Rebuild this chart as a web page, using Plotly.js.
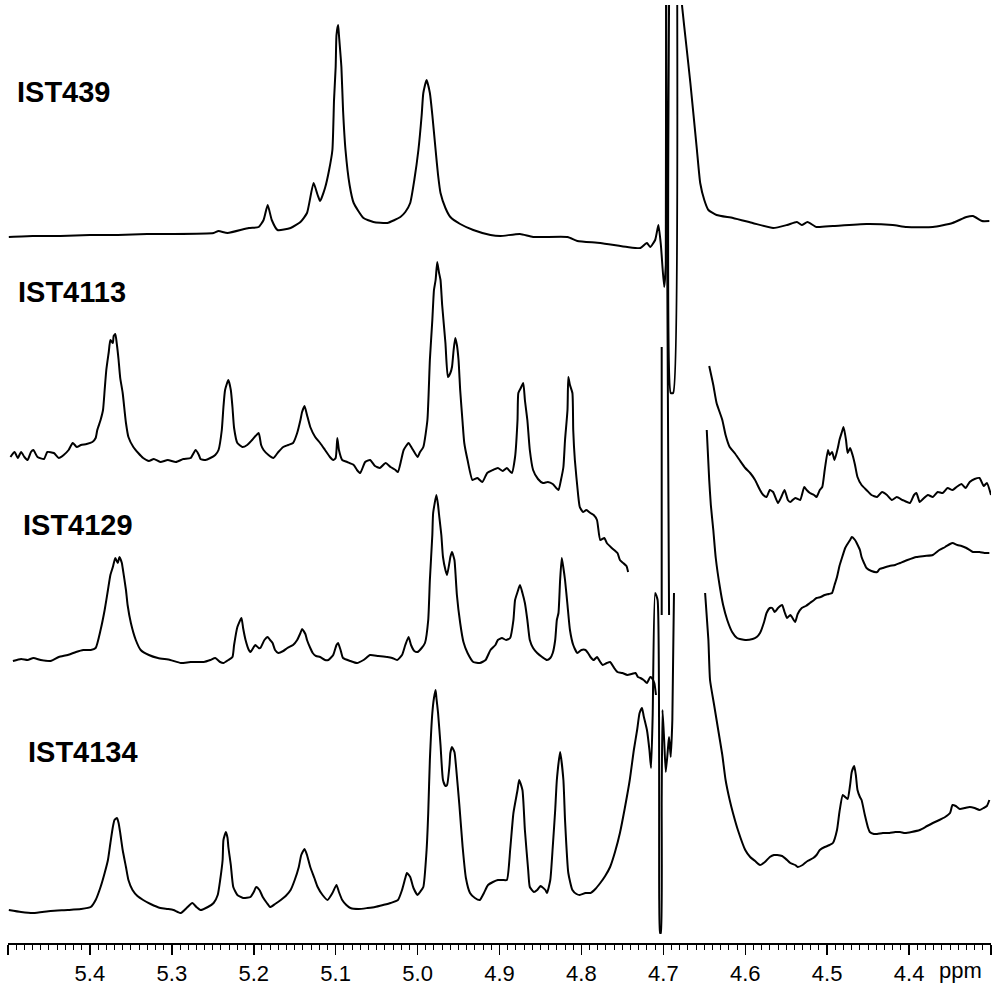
<!DOCTYPE html>
<html>
<head>
<meta charset="utf-8">
<script src="https://cdn.plot.ly/plotly-3.0.1.min.js"></script>
<style>html,body{margin:0;padding:0;background:#fff;}#chart{width:1000px;height:989px;}</style>
</head>
<body>
<div id="chart"></div>
<script>
// ---- Data: chemical shift (ppm) and intensity (a.u., relative to each spectrum's baseline); null = gap
const ppm_IST439 = [5.499,5.470,5.436,5.400,5.366,5.330,5.302,5.249,5.243,5.232,5.206,5.194,5.188,5.183,5.178,5.171,5.155,5.143,5.135,5.127,5.122,5.119,5.113,5.108,5.104,5.102,5.100,5.099,5.097,5.096,5.093,5.091,5.088,5.083,5.078,5.066,5.054,5.037,5.021,5.015,5.009,5.004,4.999,4.995,4.993,4.989,4.985,4.982,4.978,4.975,4.972,4.966,4.960,4.948,4.932,4.911,4.899,4.875,4.859,4.817,4.805,4.777,4.744,4.728,4.722,4.720,4.716,4.710,4.706,4.703,4.699,4.697,4.695,4.678,4.677,4.672,4.667,4.659,4.655,4.650,4.645,4.635,4.615,4.591,4.566,4.549,4.537,4.531,4.524,4.513,4.493,4.452,4.420,4.403,4.371,4.347,4.330,4.322,4.311,4.302];
const int_IST439 = [-1,0,0,1,1,2,2,3,5,3,8,9,16,31,16,6,8,14,23,53,41,35,48,66,86,136,169,201,211,201,169,126,86,51,33,18,14,13,19,24,33,56,86,121,143,156,143,121,86,61,43,28,19,12,6,1,0,2,-1,-1,-5,-7,-11,-12,-8,-7,-11,-4,11,-9,-51,-29,1200,241,229,191,153,86,53,36,26,21,18,13,8,11,14,11,14,9,10,12,11,9,9,13,19,20,15,15];

const ppm_IST4113 = [5.497,5.492,5.488,5.484,5.480,5.476,5.472,5.469,5.464,5.456,5.452,5.444,5.438,5.432,5.426,5.421,5.416,5.411,5.404,5.397,5.393,5.391,5.387,5.384,5.382,5.380,5.377,5.375,5.372,5.371,5.369,5.367,5.365,5.363,5.360,5.356,5.353,5.347,5.341,5.335,5.328,5.322,5.314,5.305,5.295,5.286,5.277,5.271,5.267,5.265,5.259,5.253,5.247,5.243,5.239,5.237,5.235,5.231,5.228,5.226,5.224,5.220,5.214,5.208,5.202,5.194,5.191,5.188,5.182,5.176,5.170,5.164,5.158,5.152,5.147,5.143,5.141,5.138,5.135,5.131,5.125,5.119,5.113,5.107,5.103,5.100,5.098,5.096,5.092,5.086,5.078,5.074,5.070,5.064,5.058,5.052,5.046,5.039,5.033,5.027,5.024,5.020,5.017,5.011,5.007,5.000,4.997,4.993,4.988,4.985,4.982,4.980,4.978,4.976,4.974,4.972,4.970,4.966,4.963,4.960,4.958,4.956,4.954,4.952,4.950,4.948,4.945,4.943,4.939,4.933,4.927,4.921,4.915,4.908,4.902,4.896,4.891,4.885,4.881,4.878,4.877,4.874,4.871,4.869,4.866,4.863,4.859,4.853,4.847,4.841,4.835,4.828,4.825,4.822,4.820,4.817,4.816,4.814,4.811,4.810,4.808,4.804,4.802,4.798,4.794,4.789,4.785,4.781,4.777,4.772,4.769,4.763,4.756,4.753,4.749,4.745,4.743,
  null,4.702,4.702,null,4.693,4.693,4.691,4.691,4.688,4.688,null,
  4.644,4.639,4.635,4.628,4.624,4.619,4.613,4.607,4.600,4.594,4.588,4.582,4.578,4.574,4.570,4.566,4.560,4.556,4.552,4.548,4.545,4.539,4.533,4.528,4.525,4.521,4.516,4.513,4.509,4.506,4.503,4.499,4.497,4.494,4.491,4.487,4.485,4.482,4.480,4.477,4.475,4.472,4.469,4.466,4.463,4.458,4.452,4.446,4.439,4.433,4.427,4.421,4.415,4.408,4.399,4.394,4.391,4.387,4.383,4.377,4.371,4.365,4.359,4.353,4.347,4.342,4.336,4.331,4.326,4.320,4.314,4.309,4.305,4.300];
const int_IST4113 = [3,8,2,8,3,0,8,10,3,1,8,7,2,5,10,17,13,15,16,18,22,30,40,50,70,90,108,120,117,124,126,115,100,82,67,37,23,13,7,2,-1,1,-2,0,-2,1,2,10,5,1,0,2,5,10,30,53,70,80,70,53,32,17,13,15,20,27,15,10,5,2,8,13,15,17,27,40,48,54,45,33,23,17,10,3,0,2,22,10,0,-2,-5,-10,-13,-2,0,-6,-8,-3,-7,-10,-12,0,10,17,12,3,8,13,40,100,140,170,180,198,188,180,155,117,83,87,93,110,122,115,100,70,37,17,0,-20,-18,-22,-13,-10,-8,-11,-8,-13,3,40,67,72,77,60,40,10,-10,-19,-23,-22,-24,-30,-20,-7,20,50,83,75,67,30,0,-35,-47,-52,-50,-53,-55,-60,-80,-78,-83,-88,-93,-100,-103,-106,-112,
  null,-155,113,null,-155,1200,1200,67,67,1200,null,
  94,75,57,40,25,13,7,0,-8,-13,-20,-30,-35,-37,-30,-32,-43,-37,-30,-40,-42,-38,-40,-27,-30,-33,-35,-37,-30,-27,-10,10,5,8,0,12,20,28,33,20,7,12,5,-5,-17,-25,-30,-35,-37,-32,-35,-40,-37,-40,-43,-35,-33,-42,-39,-35,-37,-32,-33,-28,-30,-27,-24,-28,-22,-19,-18,-26,-23,-35];

const ppm_IST4129 = [5.494,5.484,5.476,5.469,5.460,5.448,5.438,5.427,5.417,5.408,5.399,5.393,5.387,5.382,5.378,5.375,5.372,5.369,5.366,5.364,5.361,5.360,5.356,5.354,5.350,5.344,5.338,5.328,5.317,5.302,5.289,5.277,5.261,5.253,5.247,5.241,5.237,5.231,5.226,5.224,5.220,5.215,5.213,5.210,5.206,5.204,5.200,5.198,5.194,5.192,5.187,5.183,5.180,5.177,5.174,5.170,5.164,5.159,5.152,5.147,5.143,5.141,5.137,5.135,5.131,5.128,5.124,5.119,5.113,5.109,5.103,5.099,5.097,5.094,5.091,5.082,5.074,5.066,5.058,5.048,5.037,5.031,5.025,5.019,5.015,5.011,5.008,5.004,5.000,4.995,4.991,4.987,4.985,4.982,4.981,4.977,4.975,4.974,4.971,4.969,4.966,4.964,4.961,4.960,4.958,4.955,4.954,4.952,4.948,4.944,4.939,4.932,4.924,4.917,4.911,4.905,4.902,4.897,4.892,4.887,4.883,4.881,4.878,4.875,4.872,4.869,4.866,4.863,4.859,4.854,4.848,4.842,4.838,4.835,4.832,4.830,4.828,4.826,4.824,4.822,4.820,4.817,4.814,4.810,4.805,4.800,4.795,4.792,4.789,4.785,4.781,4.777,4.774,4.769,4.765,4.760,4.756,4.750,4.744,4.739,4.734,4.731,4.728,4.724,4.720,4.716,4.714,4.711,4.709,
  null,
  4.647,4.644,4.642,4.639,4.636,4.631,4.627,4.622,4.616,4.610,4.600,4.591,4.586,4.582,4.577,4.574,4.570,4.567,4.564,4.560,4.555,4.552,4.549,4.545,4.543,4.539,4.536,4.531,4.526,4.521,4.516,4.513,4.508,4.503,4.498,4.494,4.491,4.488,4.485,4.482,4.478,4.476,4.472,4.470,4.466,4.464,4.460,4.458,4.455,4.452,4.446,4.439,4.436,4.432,4.424,4.417,4.411,4.402,4.391,4.381,4.371,4.363,4.356,4.350,4.347,4.341,4.336,4.330,4.322,4.314,4.308,4.302];
const int_IST4129 = [-1,1,0,2,0,-1,3,5,8,10,10,12,30,50,70,85,93,102,97,103,97,92,70,55,37,20,10,5,2,0,-3,-2,-2,0,2,-2,-3,0,3,15,33,42,32,20,10,8,13,15,12,12,20,23,20,17,10,7,9,12,15,20,27,31,26,20,12,7,4,3,0,0,5,15,17,10,2,-1,-3,0,5,4,3,2,0,5,15,23,15,9,8,12,17,40,80,125,147,165,155,147,125,103,90,85,98,103,108,100,90,65,37,18,7,-2,-3,0,10,15,20,22,20,22,40,60,68,75,67,57,40,20,12,7,3,0,2,7,20,40,47,80,102,92,80,55,30,15,7,10,10,7,3,0,3,-2,-5,-3,-2,-8,-12,-13,-15,-14,-13,-17,-18,-20,-23,-17,-18,-23,-35,
  null,
  230,180,155,130,102,73,55,40,28,22,20,21,23,27,38,47,52,52,48,52,55,48,42,45,43,38,46,52,54,57,60,62,63,65,66,67,75,83,94,102,112,115,120,123,120,117,110,103,97,92,89,88,91,92,94,95,97,100,103,104,105,110,113,116,117,115,114,112,108,108,107,107];

const ppm_IST4134 = [5.499,5.484,5.469,5.448,5.427,5.411,5.399,5.393,5.387,5.382,5.378,5.375,5.372,5.370,5.367,5.365,5.363,5.360,5.356,5.353,5.348,5.342,5.335,5.326,5.314,5.305,5.298,5.289,5.282,5.275,5.270,5.265,5.256,5.249,5.244,5.241,5.238,5.237,5.234,5.232,5.231,5.228,5.225,5.220,5.213,5.204,5.200,5.197,5.193,5.189,5.184,5.180,5.174,5.167,5.161,5.155,5.150,5.145,5.142,5.138,5.135,5.131,5.126,5.122,5.116,5.110,5.104,5.099,5.096,5.092,5.087,5.082,5.072,5.061,5.052,5.042,5.033,5.024,5.019,5.015,5.013,5.009,5.005,5.000,4.997,4.993,4.989,4.987,4.985,4.982,4.980,4.978,4.977,4.975,4.972,4.969,4.966,4.964,4.961,4.960,4.958,4.955,4.953,4.949,4.945,4.941,4.936,4.930,4.924,4.919,4.914,4.908,4.902,4.896,4.891,4.887,4.883,4.878,4.876,4.872,4.869,4.865,4.863,4.858,4.854,4.850,4.848,4.844,4.842,4.838,4.835,4.832,4.830,4.826,4.822,4.820,4.816,4.811,4.806,4.802,4.795,4.789,4.783,4.777,4.771,4.765,4.759,4.753,4.747,4.741,4.736,4.732,4.729,4.726,4.724,4.720,4.717,4.715,4.713,4.710,4.707,4.705,4.704,4.703,4.702,4.701,4.699,4.697,4.694,4.693,4.691,4.689,4.687,
  null,
  4.649,4.645,4.643,4.638,4.633,4.628,4.624,4.619,4.615,4.609,4.600,4.594,4.588,4.582,4.576,4.570,4.565,4.561,4.555,4.549,4.545,4.539,4.536,4.530,4.524,4.517,4.513,4.509,4.503,4.497,4.493,4.488,4.485,4.481,4.478,4.475,4.472,4.470,4.467,4.465,4.463,4.460,4.458,4.454,4.450,4.448,4.443,4.439,4.432,4.424,4.417,4.411,4.405,4.397,4.387,4.378,4.371,4.363,4.356,4.350,4.347,4.343,4.338,4.332,4.326,4.320,4.314,4.309,4.305,4.302];
const int_IST4134 = [0,-2,-3,-1,0,1,3,10,23,37,50,67,83,90,92,87,77,60,43,30,20,14,10,6,2,1,0,-3,2,7,3,0,3,7,15,30,50,70,78,72,63,45,23,15,12,13,18,23,20,13,7,3,6,10,14,20,30,43,55,61,55,43,32,23,15,10,17,25,18,10,5,2,1,2,3,5,7,10,20,32,37,33,22,15,18,23,60,97,150,197,212,220,212,197,165,130,124,125,145,157,163,158,143,105,63,32,17,12,10,17,25,28,30,30,30,60,97,120,130,120,80,40,23,18,20,24,23,20,17,30,63,100,130,158,130,90,37,20,16,15,17,17,21,27,34,43,58,77,102,130,160,180,197,202,194,180,160,142,195,317,310,10,-23,-23,110,200,170,138,165,173,153,190,317,
  null,
  317,270,230,205,180,155,130,110,97,80,60,53,49,45,48,53,55,55,54,50,47,45,43,45,49,52,55,60,63,65,67,80,98,115,113,111,125,138,144,135,120,113,110,95,82,78,76,76,77,77,78,78,77,78,80,84,87,90,93,97,105,104,101,102,103,102,100,102,104,110];

const sampleNames = ["IST439", "IST4113", "IST4129", "IST4134"];
const majorTicks = [5.5, 5.4, 5.3, 5.2, 5.1, 5.0, 4.9, 4.8, 4.7, 4.6, 4.5, 4.4, 4.3];
const majorTickText = ["", "5.4", "5.3", "5.2", "5.1", "5.0", "4.9", "4.8", "4.7", "4.6", "4.5", "4.4", ""];

// ---- Presentation config (stack offsets, label placement)
const stack = [
  {ppm: ppm_IST439,  y: int_IST439,  offset: 707, lx: 5.491, ly: 851},
  {ppm: ppm_IST4113, y: int_IST4113, offset: 483, lx: 5.490, ly: 651},
  {ppm: ppm_IST4129, y: int_IST4129, offset: 283, lx: 5.484, ly: 418},
  {ppm: ppm_IST4134, y: int_IST4134, offset: 33,  lx: 5.478, ly: 191}
];

const traces = stack.map((s, i) => ({
  type: 'scatter', mode: 'lines', name: sampleNames[i],
  x: s.ppm,
  y: s.y.map(v => v === null ? null : v + s.offset),
  connectgaps: false,
  line: {color: '#000', width: 2, shape: 'spline', smoothing: 0.5},
  hoverinfo: 'skip'
}));

const minorVals = [];
for (let k = 430; k <= 550; k++) { if (k % 10 !== 0) minorVals.push(k / 100); }

const font = 'Arial, "Liberation Sans", sans-serif';
const annotations = stack.map((s, i) => ({
  x: s.lx, y: s.ly, xref: 'x', yref: 'y', xanchor: 'left', yanchor: 'middle',
  text: '<b>' + sampleNames[i] + '</b>', showarrow: false,
  font: {family: font, size: 29, color: '#000'}
}));
annotations.push({
  x: 0.9685, y: -0.029, xref: 'paper', yref: 'paper', xanchor: 'center', yanchor: 'middle',
  text: 'ppm', showarrow: false, font: {family: font, size: 22, color: '#000'}
});

const layout = {
  width: 1000, height: 989,
  margin: {l: 8, r: 9, t: 5, b: 46},
  paper_bgcolor: '#fff', plot_bgcolor: '#fff',
  showlegend: false,
  xaxis: {
    range: [5.5, 4.3], autorange: false,
    showgrid: false, zeroline: false,
    showline: true, linecolor: '#000', linewidth: 1.5,
    ticks: 'outside', ticklen: 10, tickwidth: 1.5, tickcolor: '#000',
    tickmode: 'array', tickvals: majorTicks, ticktext: majorTickText,
    tickfont: {family: font, size: 22, color: '#000'},
    minor: {tickmode: 'array', tickvals: minorVals, ticks: 'outside', ticklen: 5, tickwidth: 1, tickcolor: '#000', showgrid: false}
  },
  yaxis: {range: [0, 938], autorange: false, visible: false, showgrid: false, zeroline: false},
  annotations: annotations
};

Plotly.newPlot('chart', traces, layout, {staticPlot: true, displayModeBar: false});
</script>
</body>
</html>
